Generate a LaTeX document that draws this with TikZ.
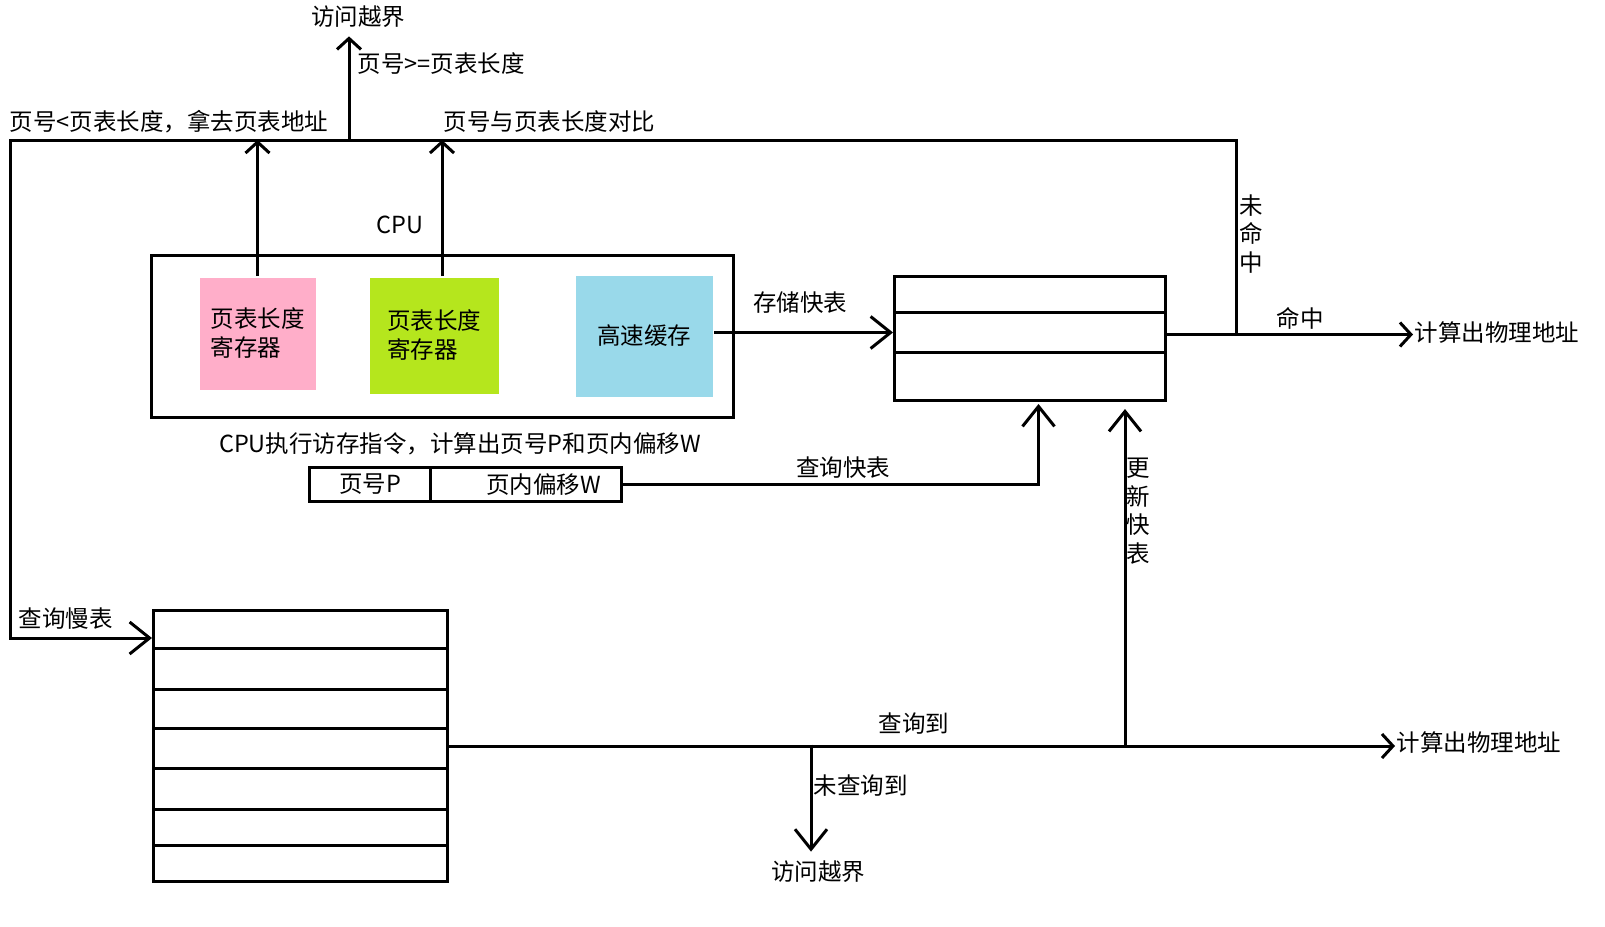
\documentclass[tikz,border=0pt]{standalone}
\usepackage{fontspec}
\setmainfont{Noto Sans CJK SC}
\usetikzlibrary{arrows.meta,calc}
\definecolor{rosebox}{HTML}{FFAEC9}
\definecolor{limebox}{HTML}{B5E61D}
\definecolor{cyanbox}{HTML}{99D9EA}
\begin{document}
\begin{tikzpicture}[x=1pt,y=-1pt,
  line width=3pt,
  lbl/.style={inner sep=0pt, font=\fontsize{23.5}{28.5}\selectfont},
  vlbl/.style={lbl, align=center},
  box/.style={draw, line width=3pt, inner sep=0pt, anchor=north west},
  fillbox/.style={inner sep=0pt, anchor=north west, font=\fontsize{23.5}{29}\selectfont},
  arr/.style={-{Straight Barb[length=11pt,width=24pt]}},
  arrbig/.style={-{Straight Barb[length=20pt,width=32pt]}},
]
\useasboundingbox[fill=white] (0,0) rectangle (1605,926);

% CPU box and its registers
\node[box, minimum width=582pt, minimum height=162pt] (cpu) at (150,254) {};
\node[fillbox, fill=rosebox, minimum width=116pt, minimum height=112pt, text width=94pt, align=left] (ptr1) at (198,276) {页表长度\\寄存器};
\node[fillbox, fill=limebox, minimum width=129pt, minimum height=116pt, text width=94pt, align=left] (ptr2) at (368,276) {页表长度\\寄存器};
\node[fillbox, fill=cyanbox, minimum width=137pt, minimum height=121pt] (cache) at (574,274) {高速缓存};
\node[lbl] (cpulbl) at (400,225) {CPU};

% TLB
\node[box, minimum width=271pt, minimum height=124pt] (tlb) at (893,275) {};
\draw ($(tlb.north west)+(0,37)$) -- ($(tlb.north east)+(0,37)$);
\draw ($(tlb.north west)+(0,77)$) -- ($(tlb.north east)+(0,77)$);

% page table (slow table)
\node[box, minimum width=294pt, minimum height=271pt] (pt) at (152,609) {};
\foreach \d in {39,80,119,159,200,236}
  \draw ($(pt.north west)+(0,\d)$) -- ($(pt.north east)+(0,\d)$);

% logical address
\node[box, minimum width=121pt, minimum height=34pt, font=\fontsize{23.5}{26}\selectfont] (pnum) at (308,466) {页号P};
\node[box, minimum width=191pt, minimum height=34pt, text width=150pt, align=right, font=\fontsize{23.5}{26}\selectfont] (poff) at (429,466) {页内偏移W};
\node[lbl] (instr) at (460,444) {CPU执行访存指令，计算出页号P和页内偏移W};

% texts
\node[lbl] (oob1) at (358,17) {访问越界};
\node[lbl, anchor=west] (ge) at (356,64) {页号>=页表长度};
\node[lbl, anchor=west] (lt) at (8,122) {页号<页表长度，拿去页表地址};
\node[lbl, anchor=west] (cmp) at (442,122) {页号与页表长度对比};
\node[lbl] (store) at (800,303) {存储快表};
\node[lbl] (hit) at (1300,318) {命中};
\node[lbl, anchor=west] (phys1) at (1413,333) {计算出物理地址};
\node[vlbl] (miss) at (1251,234) {未\\命\\中};
\node[lbl] (qtlb) at (843,468) {查询快表};
\node[vlbl] (upd) at (1138,511) {更\\新\\快\\表};
\node[lbl, anchor=west] (qslow) at (17,619) {查询慢表};
\node[lbl] (found) at (914,724) {查询到};
\node[lbl, anchor=west] (nfound) at (812,786) {未查询到};
\node[lbl] (oob2) at (818,872) {访问越界};
\node[lbl, anchor=west] (phys2) at (1395,743) {计算出物理地址};

% coordinates
\coordinate (tl) at (10,140);
\coordinate (tlbout) at ([yshift=4pt]tlb.east);
\coordinate (cacheout) at ([yshift=3.5pt]cache.east);
\coordinate (hitj) at (1236,333);
\coordinate (j1) at (349,140);
\coordinate (slowin) at ($(pt.north west)+(0,29)$);
\coordinate (uj) at (1125,744.5);
\coordinate (dj) at (811,744.5);

% connectors
\draw[arr] (ptr1.north) -- (ptr1.north |- tl);
\draw[arr] ([xshift=8pt]ptr2.north) -- ([xshift=8pt]ptr2.north |- tl);
\draw[arr] (j1) -- ([yshift=-7pt]oob1.south -| j1);
\draw[arrbig] (cacheout) -- (tlb.west |- cacheout);
\draw[arr] (tlbout) -- (tlbout -| phys1.west);
\draw[arrbig] (hitj) -- (hitj |- tl) -- (tl) -- (tl |- slowin) -- (slowin);
\draw[arrbig] (poff.east) -| ([xshift=8.5pt,yshift=-2pt]tlb.south);
\draw[arrbig] (uj) -- ([yshift=-7pt]tlb.south -| uj);
\draw[arr] (pt.east) -- (pt.east -| phys2.west);
\draw[arrbig] (dj) -- ([yshift=8pt]oob2.north -| dj);
\end{tikzpicture}
\end{document}
